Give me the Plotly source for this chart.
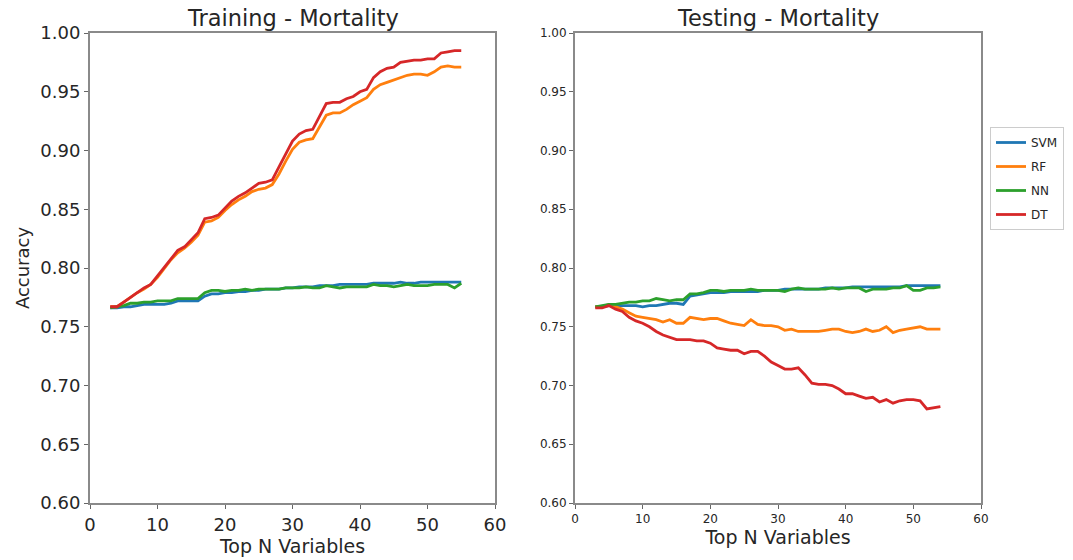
import plotly.graph_objects as go

# Number of top-ranked variables used
train_n = list(range(3, 56))
test_n = list(range(3, 55))

# Training accuracy per model
train_svm = [0.766, 0.766, 0.767, 0.767, 0.768, 0.769, 0.769,
             0.769, 0.769, 0.770, 0.772, 0.772, 0.772, 0.772,
             0.776, 0.778, 0.778, 0.779, 0.779, 0.780, 0.780,
             0.781, 0.781, 0.782, 0.782, 0.782, 0.783, 0.783,
             0.784, 0.784, 0.784, 0.785, 0.785, 0.785, 0.786,
             0.786, 0.786, 0.786, 0.786, 0.787, 0.787, 0.787,
             0.787, 0.788, 0.787, 0.787, 0.788, 0.788, 0.788,
             0.788, 0.788, 0.788, 0.788]
train_rf = [0.767, 0.767, 0.771, 0.775, 0.779, 0.782, 0.786,
            0.792, 0.800, 0.807, 0.813, 0.817, 0.822, 0.828,
            0.839, 0.840, 0.843, 0.849, 0.854, 0.858, 0.861,
            0.865, 0.867, 0.868, 0.871, 0.880, 0.891, 0.901,
            0.907, 0.909, 0.910, 0.920, 0.930, 0.932, 0.932,
            0.935, 0.939, 0.942, 0.945, 0.952, 0.956, 0.958,
            0.960, 0.962, 0.964, 0.965, 0.965, 0.964, 0.967,
            0.971, 0.972, 0.971, 0.971]
train_nn = [0.766, 0.767, 0.768, 0.770, 0.770, 0.771, 0.771,
            0.772, 0.772, 0.772, 0.774, 0.774, 0.774, 0.774,
            0.779, 0.781, 0.781, 0.780, 0.781, 0.781, 0.782,
            0.781, 0.782, 0.782, 0.782, 0.782, 0.783, 0.783,
            0.783, 0.784, 0.783, 0.783, 0.785, 0.784, 0.783,
            0.784, 0.784, 0.784, 0.784, 0.786, 0.785, 0.785,
            0.784, 0.785, 0.786, 0.785, 0.785, 0.785, 0.786,
            0.786, 0.786, 0.783, 0.787]
train_dt = [0.767, 0.767, 0.771, 0.775, 0.779, 0.783, 0.786,
            0.793, 0.801, 0.808, 0.815, 0.818, 0.824, 0.830,
            0.842, 0.843, 0.845, 0.851, 0.857, 0.861, 0.864,
            0.868, 0.872, 0.873, 0.875, 0.886, 0.897, 0.908,
            0.914, 0.917, 0.918, 0.929, 0.940, 0.941, 0.941,
            0.944, 0.946, 0.950, 0.952, 0.962, 0.967, 0.970,
            0.971, 0.975, 0.976, 0.977, 0.977, 0.978, 0.978,
            0.983, 0.984, 0.985, 0.985]

# Testing accuracy per model
test_svm = [0.767, 0.767, 0.768, 0.768, 0.768, 0.768, 0.768,
            0.767, 0.768, 0.768, 0.769, 0.770, 0.770, 0.769,
            0.776, 0.777, 0.778, 0.779, 0.779, 0.779, 0.780,
            0.780, 0.780, 0.780, 0.780, 0.781, 0.781, 0.781,
            0.782, 0.782, 0.782, 0.782, 0.782, 0.782, 0.783,
            0.783, 0.783, 0.783, 0.784, 0.784, 0.784, 0.784,
            0.784, 0.784, 0.784, 0.784, 0.785, 0.785, 0.785,
            0.785, 0.785, 0.785]
test_rf = [0.767, 0.767, 0.769, 0.767, 0.765, 0.762, 0.759,
           0.758, 0.757, 0.756, 0.754, 0.756, 0.753, 0.753,
           0.758, 0.757, 0.756, 0.757, 0.757, 0.755, 0.753,
           0.752, 0.751, 0.756, 0.752, 0.751, 0.751, 0.750,
           0.747, 0.748, 0.746, 0.746, 0.746, 0.746, 0.747,
           0.748, 0.748, 0.746, 0.745, 0.746, 0.748, 0.746,
           0.747, 0.750, 0.745, 0.747, 0.748, 0.749, 0.750,
           0.748, 0.748, 0.748]
test_nn = [0.767, 0.768, 0.769, 0.769, 0.770, 0.771, 0.771,
           0.772, 0.772, 0.774, 0.773, 0.772, 0.773, 0.773,
           0.778, 0.778, 0.779, 0.781, 0.781, 0.780, 0.781,
           0.781, 0.781, 0.782, 0.781, 0.781, 0.781, 0.781,
           0.780, 0.782, 0.783, 0.782, 0.782, 0.782, 0.782,
           0.783, 0.782, 0.783, 0.783, 0.783, 0.780, 0.782,
           0.782, 0.782, 0.783, 0.783, 0.785, 0.781, 0.781,
           0.783, 0.783, 0.784]
test_dt = [0.766, 0.766, 0.768, 0.765, 0.763, 0.758, 0.755,
           0.753, 0.750, 0.746, 0.743, 0.741, 0.739, 0.739,
           0.739, 0.738, 0.738, 0.736, 0.732, 0.731, 0.730,
           0.730, 0.727, 0.729, 0.729, 0.725, 0.720, 0.717,
           0.714, 0.714, 0.715, 0.709, 0.702, 0.701, 0.701,
           0.700, 0.697, 0.693, 0.693, 0.691, 0.689, 0.690,
           0.686, 0.688, 0.685, 0.687, 0.688, 0.688, 0.687,
           0.680, 0.681, 0.682]

models = ["SVM", "RF", "NN", "DT"]
colors = {"SVM": "#1f77b4", "RF": "#ff7f0e", "NN": "#2ca02c", "DT": "#d62728"}
train = {"SVM": train_svm, "RF": train_rf, "NN": train_nn, "DT": train_dt}
test = {"SVM": test_svm, "RF": test_rf, "NN": test_nn, "DT": test_dt}

fig = go.Figure()
for m in models:
    fig.add_trace(go.Scatter(x=train_n, y=train[m], mode="lines", name=m,
                             legendgroup=m,
                             line=dict(color=colors[m], width=2.8),
                             xaxis="x", yaxis="y", showlegend=False))
for m in models:
    fig.add_trace(go.Scatter(x=test_n, y=test[m], mode="lines", name=m,
                             legendgroup=m,
                             line=dict(color=colors[m], width=2.8),
                             xaxis="x2", yaxis="y2", showlegend=True))

W, H = 1073, 560
font = "DejaVu Sans"
axis_common = dict(showline=True, linecolor="#8a8a8a", linewidth=2, mirror=True,
                   ticks="outside", ticklen=4, tickcolor="#666", tickwidth=1,
                   showgrid=False, zeroline=False, automargin=False)

fig.update_layout(
    width=W, height=H,
    margin=dict(l=0, r=0, t=0, b=0),
    paper_bgcolor="white", plot_bgcolor="white",
    font=dict(family=font, color="#262626"),
    xaxis=dict(domain=[90 / W, 495 / W], range=[0, 60], dtick=10,
               tickfont=dict(size=18), anchor="y",
               title=dict(text="Top N Variables", font=dict(size=19), standoff=2),
               **axis_common),
    yaxis=dict(domain=[1 - 503 / H, 1 - 33 / H], range=[0.60, 1.00], dtick=0.05,
               tickformat=".2f", tickfont=dict(size=18), anchor="x",
               title=dict(text="Accuracy", font=dict(size=18), standoff=6),
               **axis_common),
    xaxis2=dict(domain=[575 / W, 981 / W], range=[0, 60], dtick=10,
                tickfont=dict(size=12), anchor="y2",
                title=dict(text="Top N Variables", font=dict(size=19), standoff=5),
                **axis_common),
    yaxis2=dict(domain=[1 - 503 / H, 1 - 33 / H], range=[0.60, 1.00], dtick=0.05,
                tickformat=".2f", tickfont=dict(size=12), anchor="x2",
                **axis_common),
    legend=dict(x=990 / W, y=1 - 127 / H, xanchor="left", yanchor="top",
                bordercolor="#cccccc", borderwidth=1, bgcolor="white",
                font=dict(size=12), tracegroupgap=5, itemwidth=30),
    annotations=[
        dict(text="Training - Mortality", x=(90 + 495) / 2 / W, y=1 - 18 / H,
             xref="paper", yref="paper", showarrow=False,
             font=dict(size=22.5), xanchor="center", yanchor="middle"),
        dict(text="Testing - Mortality", x=(575 + 981) / 2 / W, y=1 - 18 / H,
             xref="paper", yref="paper", showarrow=False,
             font=dict(size=22.5), xanchor="center", yanchor="middle"),
    ],
)

fig.write_html("out.html")
